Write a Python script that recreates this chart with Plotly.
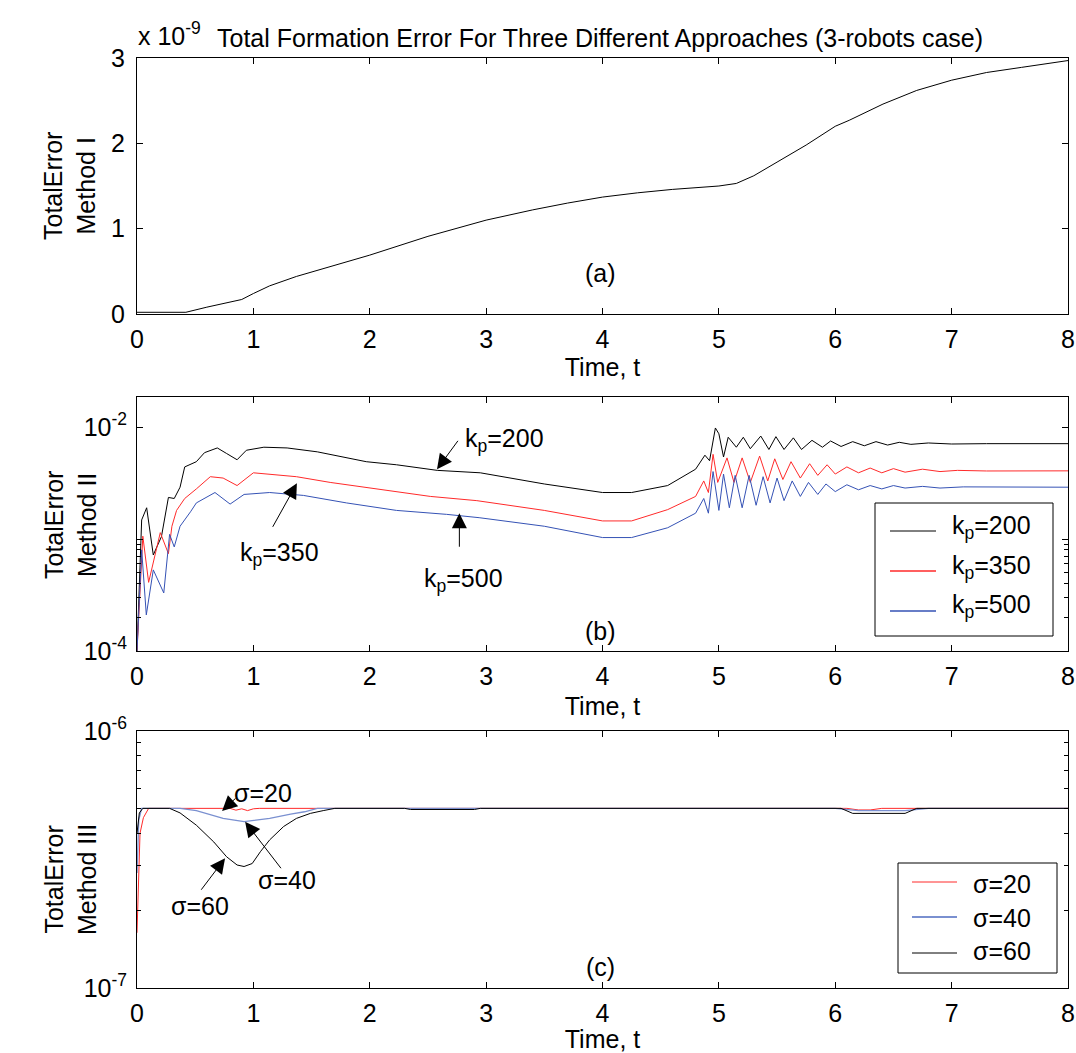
import plotly.graph_objects as go

# ---------------- data ----------------
# (a) Method I : total error (x 1e-9)
t_a = [0, 0.2, 0.42, 0.6, 0.9, 1.0, 1.14, 1.37, 1.7, 2.0, 2.5, 3.0, 3.4, 3.7, 4.0,
       4.3, 4.6, 5.0, 5.15, 5.3, 5.5, 5.75, 6.0, 6.12, 6.41, 6.7, 7.0, 7.3, 7.6, 7.9, 8.0]
err_a = [0.02, 0.02, 0.02, 0.08, 0.17, 0.24, 0.33, 0.44, 0.57, 0.69, 0.91, 1.10, 1.22, 1.30, 1.37,
         1.42, 1.46, 1.50, 1.53, 1.62, 1.78, 1.98, 2.20, 2.27, 2.46, 2.62, 2.74, 2.83, 2.89, 2.95, 2.97]

# (b) Method II : total error for three gains (x 1e-3)
t_kp200 = [0, 0.04, 0.083, 0.14, 0.21, 0.27, 0.32, 0.37, 0.41, 0.51, 0.58, 0.69, 0.77, 0.86, 0.94,
           1.09, 1.29, 1.55, 1.97, 2.23, 2.58, 2.95, 3.5, 4.0, 4.25, 4.56, 4.8, 4.88, 4.92, 4.97,
           5.0, 5.04, 5.08, 5.15, 5.21, 5.27, 5.36, 5.43, 5.49, 5.56, 5.64, 5.71, 5.8, 5.89, 5.96,
           6.05, 6.15, 6.25, 6.35, 6.45, 6.55, 6.65, 6.8, 7.0, 7.3, 8.0]
err_kp200 = [0.1, 1.48, 1.9, 0.72, 1.05, 2.35, 2.3, 2.9, 4.4, 4.9, 5.9, 6.5, 5.8, 5.1, 6.2,
             6.6, 6.5, 6.0, 4.9, 4.6, 4.1, 3.9, 3.1, 2.6, 2.6, 3.0, 4.2, 5.6, 5.0, 9.8,
             8.7, 5.4, 8.1, 6.6, 8.1, 6.4, 8.3, 6.3, 8.2, 6.3, 8.0, 6.3, 7.6, 6.6, 7.5,
             6.7, 7.4, 6.8, 7.4, 6.9, 7.3, 7.0, 7.2, 7.05, 7.1, 7.1]

t_kp350 = [0, 0.05, 0.1, 0.2, 0.27, 0.30, 0.34, 0.41, 0.51, 0.63, 0.74, 0.86, 1.0, 1.14, 1.37,
           1.66, 2.09, 2.52, 2.92, 3.5, 4.0, 4.25, 4.56, 4.8, 4.87, 4.91, 4.95, 4.99, 5.07, 5.13,
           5.2, 5.27, 5.35, 5.42, 5.48, 5.55, 5.62, 5.70, 5.78, 5.85, 5.93, 6.0, 6.1, 6.2, 6.3,
           6.4, 6.5, 6.6, 6.75, 6.9, 7.05, 7.3, 8.0]
err_kp350 = [0.1, 1.06, 0.41, 1.14, 0.74, 1.3, 1.8, 2.3, 2.8, 3.6, 3.5, 3.0, 3.9, 3.8, 3.6,
             3.2, 2.75, 2.4, 2.2, 1.8, 1.45, 1.45, 1.83, 2.4, 3.3, 2.6, 5.7, 3.2, 5.3, 3.2,
             5.3, 3.2, 5.5, 3.3, 5.2, 3.4, 4.9, 3.5, 4.7, 3.7, 4.6, 3.8, 4.4, 3.9, 4.3,
             3.9, 4.25, 3.95, 4.2, 4.0, 4.1, 4.05, 4.06]

t_kp500 = [0, 0.04, 0.08, 0.14, 0.23, 0.28, 0.32, 0.37, 0.46, 0.51, 0.67, 0.80, 0.92, 1.14, 1.43,
           1.80, 2.23, 2.66, 2.94, 3.5, 4.0, 4.25, 4.56, 4.8, 4.87, 4.91, 4.95, 5.0, 5.04, 5.09,
           5.14, 5.2, 5.26, 5.32, 5.38, 5.44, 5.5, 5.56, 5.63, 5.7, 5.77, 5.85, 5.92, 6.0, 6.1,
           6.2, 6.3, 6.4, 6.5, 6.6, 6.75, 6.9, 7.1, 8.0]
err_kp500 = [0.1, 0.8, 0.21, 0.53, 0.33, 1.1, 0.85, 1.3, 1.75, 2.1, 2.6, 2.05, 2.5, 2.6, 2.45,
             2.1, 1.8, 1.66, 1.55, 1.3, 1.03, 1.03, 1.26, 1.7, 2.3, 1.7, 4.0, 1.8, 3.8, 1.9,
             3.7, 1.9, 3.7, 2.0, 3.6, 2.1, 3.5, 2.2, 3.3, 2.4, 3.2, 2.5, 3.1, 2.65, 3.05,
             2.75, 3.0, 2.8, 3.0, 2.85, 2.95, 2.85, 2.92, 2.9]

# (c) Method III : total error for three sigma values (x 1e-7)
t_s20 = [0, 0.01, 0.026, 0.055, 0.1, 0.8, 0.85, 0.9, 0.95, 1.0, 1.05, 6.1, 6.2, 6.3, 6.4, 8.0]
err_s20 = [1.64, 2.5, 4.0, 4.6, 5.0, 5.0, 4.92, 4.98, 4.9, 4.98, 5.0, 5.0, 4.93, 4.93, 5.0, 5.0]

t_s40 = [0, 0.015, 0.04, 0.37, 0.51, 0.74, 0.92, 1.14, 1.32, 1.44, 1.55, 6.0, 6.2, 6.6, 6.8, 8.0]
err_s40 = [2.8, 4.5, 5.0, 5.0, 4.9, 4.57, 4.44, 4.57, 4.75, 4.85, 5.0, 5.0, 4.9, 4.9, 5.0, 5.0]

t_s60 = [0, 0.02, 0.05, 0.28, 0.37, 0.51, 0.66, 0.77, 0.86, 0.92, 0.99, 1.06, 1.14, 1.26, 1.37,
         1.49, 1.6, 1.7, 2.3, 2.35, 2.9, 2.95, 6.05, 6.15, 6.6, 6.7, 8.0]
err_s60 = [4.0, 4.8, 5.0, 5.0, 4.8, 4.3, 3.7, 3.24, 3.01, 2.97, 3.05, 3.39, 3.77, 4.25, 4.57,
           4.78, 4.9, 5.0, 5.0, 4.95, 4.95, 5.0, 5.0, 4.78, 4.78, 5.0, 5.0]

time_ticks = [0, 1, 2, 3, 4, 5, 6, 7, 8]
legend_b = ["k<sub>p</sub>=200", "k<sub>p</sub>=350", "k<sub>p</sub>=500"]
legend_c = ["σ=20", "σ=40", "σ=60"]

# ---------------- styling ----------------
FONT = "Liberation Sans, Arial, sans-serif"
FS = 25
W, H = 1076, 1053
L, R = 137, 8
BLACK, RED, BLUE_B, BLUE_C = "#000000", "#ff2a2a", "#3552b5", "#7a90d0"
txt = dict(family=FONT, size=FS, color="black")


def py(p):
    """figure pixel row -> paper y"""
    return 1 - p / H


def px(p):
    """figure pixel column -> paper x"""
    return (p - L) / (W - L - R)


fig = go.Figure()

fig.add_trace(go.Scatter(x=t_a, y=[v * 1e-9 for v in err_a], mode="lines",
                         line=dict(color=BLACK, width=1), showlegend=False,
                         xaxis="x", yaxis="y"))

series_b = [(t_kp200, err_kp200, BLACK), (t_kp350, err_kp350, RED), (t_kp500, err_kp500, BLUE_B)]
for (t, v, col), name in zip(series_b, legend_b):
    fig.add_trace(go.Scatter(x=t, y=[e * 1e-3 for e in v], mode="lines", name=name,
                             line=dict(color=col, width=1), xaxis="x2", yaxis="y2",
                             showlegend=False))

series_c = [(t_s20, err_s20, RED), (t_s40, err_s40, BLUE_C), (t_s60, err_s60, BLACK)]
for (t, v, col), name in zip(series_c, legend_c):
    fig.add_trace(go.Scatter(x=t, y=[e * 1e-7 for e in v], mode="lines", name=name,
                             line=dict(color=col, width=1.3 if col == BLUE_C else 1),
                             xaxis="x3", yaxis="y3", showlegend=False))

axis_common = dict(showline=True, linecolor="black", linewidth=1, mirror="ticks",
                   ticks="inside", ticklen=6, tickcolor="black", showgrid=False,
                   zeroline=False, automargin=False, tickfont=txt)


def time_axis(anchor, standoff):
    return dict(axis_common, domain=[0, 1], anchor=anchor, range=[0, 8], tickvals=time_ticks,
                ticktext=[str(v) for v in time_ticks], ticklabelstandoff=3,
                title=dict(text="Time, t", font=txt, standoff=standoff))


layout = dict(
    width=W, height=H, margin=dict(l=L, r=R, t=0, b=0, autoexpand=False),
    paper_bgcolor="white", plot_bgcolor="white", showlegend=False,
    font=txt,
    xaxis=time_axis("y", 4),
    xaxis2=time_axis("y2", 8),
    xaxis3=time_axis("y3", 11),
    yaxis=dict(axis_common, domain=[py(314), py(58)], range=[0, 3e-9], anchor="x",
               tickvals=[0, 1e-9, 2e-9, 3e-9], ticktext=["0", "1", "2", "3"],
               ticklabelstandoff=6),
    yaxis2=dict(axis_common, type="log", domain=[py(651), py(397)],
                range=[-4, -4 + (651 - 397) / 112], anchor="x2",
                tickvals=[1e-4, 1e-3, 1e-2], ticktext=["10<sup>-4</sup>", "", "10<sup>-2</sup>"],
                ticklabelstandoff=4,
                minor=dict(tickmode="array", ticks="inside", ticklen=4, tickcolor="black",
                           tickvals=[k * 1e-4 for k in range(2, 10)])),
    yaxis3=dict(axis_common, type="log", domain=[py(988), py(731)],
                range=[-7, -6], anchor="x3",
                tickvals=[1e-7, 1e-6], ticktext=["10<sup>-7</sup>", "10<sup>-6</sup>"],
                ticklabelstandoff=4,
                minor=dict(tickmode="array", ticks="inside", ticklen=4, tickcolor="black",
                           tickvals=[k * 1e-7 for k in range(2, 10)])),
)
fig.update_layout(**layout)

ann = []
shapes = []

# title and exponent label
ann.append(dict(xref="paper", yref="paper", x=px(136), y=py(34), xanchor="left",
                yanchor="middle", text="x 10<sup>-9</sup>", showarrow=False, font=txt))
ann.append(dict(xref="paper", yref="paper", x=px(600), y=py(38), xanchor="center",
                yanchor="middle",
                text="Total Formation Error For Three Different Approaches (3-robots case)",
                showarrow=False, font=txt))

# y-axis titles
for yc, label in [(186, "TotalError<br>Method I"), (525, "TotalError<br>Method II"),
                  (880, "TotalError<br>Method III")]:
    ann.append(dict(xref="paper", yref="paper", x=px(70), y=py(yc), xanchor="center",
                    yanchor="middle", text=label, textangle=-90, showarrow=False, font=txt))

# panel tags
ann.append(dict(xref="x", yref="y", x=3.98, y=0.48e-9, text="(a)", showarrow=False, font=txt))
ann.append(dict(xref="x2", yref="y2", x=3.98, y=-3.82, text="(b)", showarrow=False, font=txt))
ann.append(dict(xref="x3", yref="y3", x=3.98, y=-6.92, text="(c)", showarrow=False, font=txt))

arrow = dict(showarrow=True, arrowhead=2, arrowsize=3, arrowwidth=1, arrowcolor="black",
             standoff=0, text="")

# panel (b) callouts
ann.append(dict(arrow, xref="x2", yref="y2", x=2.578, y=-2.378, ax=22, ay=-30))
ann.append(dict(xref="x2", yref="y2", x=2.80, y=-2.12, xanchor="left", yanchor="middle",
                text=legend_b[0], showarrow=False, font=txt))
ann.append(dict(arrow, xref="x2", yref="y2", x=1.374, y=-2.503, ax=-25, ay=45))
ann.append(dict(xref="x2", yref="y2", x=0.87, y=-3.13, xanchor="left", yanchor="middle",
                text=legend_b[1], showarrow=False, font=txt))
ann.append(dict(arrow, xref="x2", yref="y2", x=2.77, y=-2.77, ax=0, ay=35))
ann.append(dict(xref="x2", yref="y2", x=2.45, y=-3.37, xanchor="left", yanchor="middle",
                text=legend_b[2], showarrow=False, font=txt))

# panel (c) callouts
ann.append(dict(arrow, xref="x3", yref="y3", x=0.731, y=-6.311, ax=15, ay=-14))
ann.append(dict(xref="x3", yref="y3", x=0.82, y=-6.24, xanchor="left", yanchor="middle",
                text=legend_c[0], showarrow=False, font=txt))
ann.append(dict(arrow, xref="x3", yref="y3", x=0.929, y=-6.353, ax=37, ay=48))
ann.append(dict(xref="x3", yref="y3", x=1.29, y=-6.58, xanchor="center", yanchor="middle",
                text=legend_c[1], showarrow=False, font=txt))
ann.append(dict(arrow, xref="x3", yref="y3", x=0.757, y=-6.495, ax=-25, ay=33))
ann.append(dict(xref="x3", yref="y3", x=0.54, y=-6.68, xanchor="center", yanchor="middle",
                text=legend_c[2], showarrow=False, font=txt))


def add_legend(box, line_x, rows, labels, colors, widths):
    """boxed legend: box=(x0, y0, x1, y1) px, rows=[(line_y, text_y), ...]"""
    x0, y0, x1, y1 = box
    shapes.append(dict(type="rect", xref="paper", yref="paper", x0=px(x0), x1=px(x1),
                       y0=py(y1), y1=py(y0), line=dict(color="black", width=1),
                       fillcolor="white", layer="above"))
    for (ly, ty), lab, col, w in zip(rows, labels, colors, widths):
        shapes.append(dict(type="line", xref="paper", yref="paper", x0=px(line_x[0]),
                           x1=px(line_x[1]), y0=py(ly), y1=py(ly),
                           line=dict(color=col, width=w), layer="above"))
        ann.append(dict(xref="paper", yref="paper", x=px(line_x[1] + 14), y=py(ty),
                        xanchor="left", yanchor="middle", text=lab, showarrow=False,
                        font=txt))


add_legend((875, 503, 1053, 636), (890, 936), [(531, 527), (571, 567), (611, 606)],
           legend_b, [BLACK, RED, BLUE_B], [1, 1.5, 1.5])
add_legend((898, 863, 1057, 973), (912, 957), [(882, 884), (917, 918), (953, 951)],
           legend_c, [RED, BLUE_C, BLACK], [1, 2, 1])

fig.update_layout(annotations=ann, shapes=shapes)

fig.write_html("out.html")
